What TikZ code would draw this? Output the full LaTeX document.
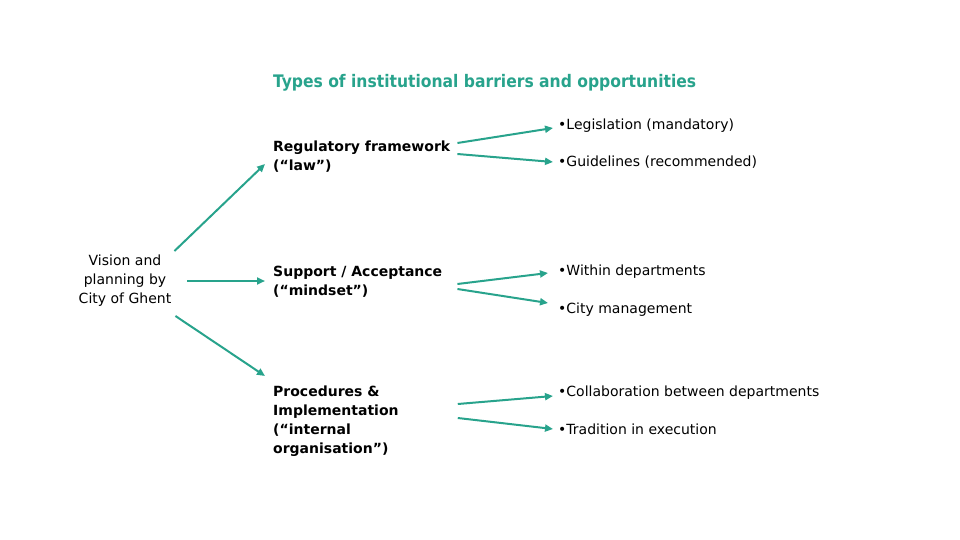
\documentclass[tikz,border=0pt]{standalone}
\usepackage{fontspec}
\setmainfont{DejaVu Sans}
\newfontfamily\titlefont{DejaVu Sans Condensed}
\usetikzlibrary{arrows.meta}
\definecolor{ghentteal}{RGB}{40,163,140}
\begin{document}
\begin{tikzpicture}[x=1pt,y=-1pt,
  txt/.style={inner sep=0pt, font=\fontsize{14}{19}\selectfont},
  bullet/.style={txt, anchor=base west},
  barrier/.style={txt, anchor=base west, align=left, font=\fontsize{14}{19}\selectfont\bfseries},
  link/.style={draw=ghentteal, line width=2pt, -{Triangle[length=8pt,width=7pt]}}]
\useasboundingbox (0,0) rectangle (960,540);
%title
\node[anchor=base west, inner sep=0pt, text=ghentteal, font=\fontsize{17.3}{20}\titlefont\bfseries] (title) at (273,88) {Types of institutional barriers and opportunities};
%starting point on the left
\node[txt, align=center, anchor=base] (vision) at (125,303) {Vision and\\planning by\\City of Ghent};
%the three types of barriers
\node[barrier] (reg) at (273,171) {Regulatory framework\\(“law”)};
\node[barrier] (supp) at (273,295) {Support / Acceptance\\(“mindset”)};
\node[barrier] (proc) at (273,453) {Procedures \&\\Implementation\\(“internal\\organisation”)};
%the sub items
\node[bullet] (leg) at (558,130) {•Legislation (mandatory)};
\node[bullet] (guide) at (558,167) {•Guidelines (recommended)};
\node[bullet] (within) at (558,275) {•Within departments};
\node[bullet] (city) at (558,313) {•City management};
\node[bullet] (collab) at (558,396) {•Collaboration between departments};
\node[bullet] (trad) at (558,434) {•Tradition in execution};
%arrows from the vision
\draw[link] ([xshift=3pt,yshift=52pt]vision.base east) -- ([xshift=-8pt,yshift=7pt]reg.base west);
\draw[link] ([xshift=16pt,yshift=22pt]vision.base east) -- ([xshift=-8pt,yshift=14pt]supp.base west);
\draw[link] ([xshift=4pt,yshift=-13pt]vision.base east) -- ([xshift=-8pt,yshift=77pt]proc.base west);
%arrows to the sub items
\draw[link] ([xshift=7pt,yshift=28pt]reg.base east) -- ([xshift=-5pt,yshift=2pt]leg.base west);
\draw[link] ([xshift=7pt,yshift=17pt]reg.base east) -- ([xshift=-5pt,yshift=5pt]guide.base west);
\draw[link] ([xshift=15pt,yshift=11pt]supp.base east) -- ([xshift=-10pt,yshift=2pt]within.base west);
\draw[link] ([xshift=15pt,yshift=6pt]supp.base east) -- ([xshift=-10pt,yshift=10pt]city.base west);
\draw[link] ([xshift=59pt,yshift=49pt]proc.base east) -- ([xshift=-5pt]collab.base west);
\draw[link] ([xshift=59pt,yshift=35pt]proc.base east) -- ([xshift=-5pt,yshift=5pt]trad.base west);
\end{tikzpicture}
\end{document}
